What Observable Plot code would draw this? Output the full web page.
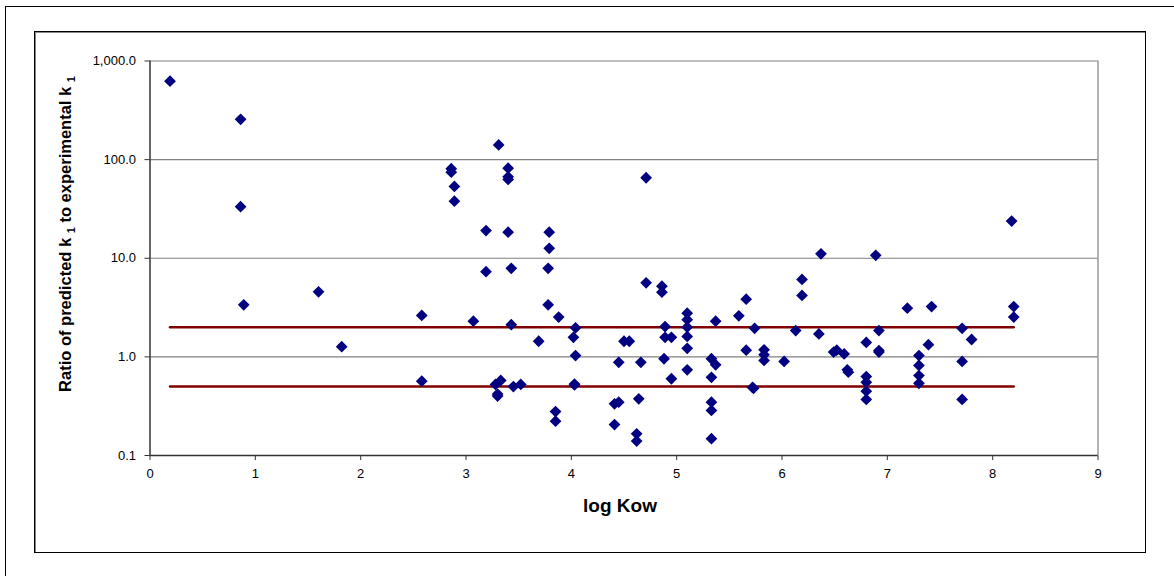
<!DOCTYPE html>
<html>
<head>
<meta charset="utf-8">
<script src="https://cdn.jsdelivr.net/npm/d3@7"></script>
<script src="https://cdn.jsdelivr.net/npm/@observablehq/plot@0.6"></script>
<style>
  html, body { margin: 0; padding: 0; background: #fff; }
  #wrap { position: relative; width: 1174px; height: 576px; overflow: hidden; font-family: "Liberation Sans", Arial, sans-serif; }
  #chart { position: absolute; left: 0; top: 0; }
  .outer { position: absolute; left: 5px; top: 6px; width: 1300px; height: 700px; border-left: 1.5px solid #000; border-top: 1.5px solid #000; pointer-events: none; }
  .inner { position: absolute; left: 34px; top: 31px; width: 1110px; height: 520px; border: 1px solid #000; box-shadow: inset 1px 1px 0 #888; pointer-events: none; }
</style>
</head>
<body>
<div id="wrap">
  <div id="chart"></div>
  <div class="outer"></div>
  <div class="inner"></div>
</div>
<script>
// log Kow values (x)
const logKow = [
  0.19, 0.86, 0.86, 0.89, 1.60, 1.82, 2.58, 2.58, 2.86, 2.86, 2.89, 2.89, 3.07,
  3.31, 3.40, 3.40, 3.40, 3.19, 3.40, 3.79, 3.79, 3.78, 3.19, 3.43, 3.78, 3.88,
  3.43, 3.69, 4.04, 4.02, 4.04, 4.03, 4.03, 3.33, 3.28, 3.30, 3.30, 3.45, 3.52,
  3.85, 3.85, 4.41, 4.41, 4.45, 4.45, 4.50, 4.55, 4.66, 4.64, 4.62, 4.62, 4.71,
  4.71, 4.86, 4.86, 4.89, 4.89, 4.95, 4.88, 4.95, 5.10, 5.10, 5.10, 5.10, 5.10,
  5.10, 5.33, 5.37, 5.33, 5.33, 5.33, 5.33, 5.37, 5.59, 5.66, 5.74, 5.66, 5.72,
  5.73, 5.83, 5.83, 5.83, 6.02, 6.13, 6.19, 6.19, 6.37, 6.35, 6.49, 6.52, 6.59,
  6.62, 6.63, 6.80, 6.80, 6.80, 6.80, 6.80, 6.89, 6.92, 6.92, 6.92, 7.19, 7.30,
  7.30, 7.30, 7.30, 7.39, 7.42, 7.71, 7.80, 7.71, 7.71, 8.18, 8.20, 8.20
];
// Ratio of predicted k1 to experimental k1 (y)
const ratio = [
  625, 256, 33.3, 3.37, 4.57, 1.27, 2.63, 0.567, 81, 74.6, 53.5, 37.9, 2.30,
  141, 82, 67, 63, 19.1, 18.4, 18.4, 12.6, 7.9, 7.3, 7.9, 3.37, 2.53,
  2.12, 1.44, 1.97, 1.58, 1.03, 0.53, 0.52, 0.577, 0.525, 0.42, 0.40, 0.50, 0.525,
  0.279, 0.223, 0.206, 0.334, 0.347, 0.88, 1.44, 1.44, 0.88, 0.376, 0.166, 0.14, 65.5,
  5.64, 5.21, 4.53, 2.03, 1.58, 1.58, 0.957, 0.60, 2.77, 2.38, 2.0, 1.61, 1.22,
  0.74, 0.957, 0.83, 0.62, 0.347, 0.286, 0.148, 2.30, 2.61, 3.85, 1.95, 1.17, 0.49,
  0.48, 1.18, 1.05, 0.92, 0.90, 1.85, 6.1, 4.2, 11.1, 1.71, 1.12, 1.17, 1.07,
  0.74, 0.70, 1.40, 0.632, 0.553, 0.449, 0.37, 10.7, 1.85, 1.16, 1.12, 3.12, 1.03,
  0.818, 0.647, 0.54, 1.33, 3.24, 1.95, 1.50, 0.90, 0.37, 23.8, 3.24, 2.53
];
// reference band lines (factor of 2)
const bandX = [0.19, 8.2];
const upperBand = [2, 2];
const lowerBand = [0.5, 0.5];
// tick values
const xTicks = [0, 1, 2, 3, 4, 5, 6, 7, 8, 9];
const yTicks = [0.1, 1, 10, 100, 1000];
const gridY = [1, 10, 100, 1000];

const points = logKow.map((x, i) => ({x, y: ratio[i]}));
const upper = bandX.map((x, i) => ({x, y: upperBand[i]}));
const lower = bandX.map((x, i) => ({x, y: lowerBand[i]}));

const chart = Plot.plot({
  width: 1174,
  height: 576,
  marginLeft: 149.5,
  marginRight: 76.5,
  marginTop: 60.5,
  marginBottom: 121,
  style: {fontFamily: "'Liberation Sans', Arial, sans-serif", fontSize: "13px", color: "#000", background: "transparent"},
  x: {domain: [0, 9], ticks: xTicks, tickSize: 5, tickPadding: 8, label: null, tickFormat: d3.format("d")},
  y: {type: "log", domain: [0.1, 1000], ticks: yTicks, tickSize: 5, tickPadding: 9, label: null, tickFormat: d3.format(",.1f")},
  marks: [
    Plot.ruleY(gridY, {stroke: "#808080", strokeWidth: 1.2}),
    Plot.ruleX([9], {stroke: "#808080", strokeWidth: 1.2}),
    Plot.ruleX([0], {stroke: "#333", strokeWidth: 1.5}),
    Plot.ruleY([0.1], {stroke: "#333", strokeWidth: 1.5}),
    Plot.line(upper, {x: "x", y: "y", stroke: "#800000", strokeWidth: 2.5}),
    Plot.line(lower, {x: "x", y: "y", stroke: "#800000", strokeWidth: 2.5}),
    Plot.dot(points, {x: "x", y: "y", symbol: "diamond2", r: 5.3, fill: "#000080", stroke: "none"}),
    Plot.axisX({ticks: xTicks, tickSize: 5, tickPadding: 8, tickFormat: d3.format("d"), label: null, stroke: "#333", fontSize: 13}),
    Plot.axisY({ticks: yTicks, tickSize: 5, tickPadding: 9, tickFormat: d3.format(",.1f"), label: null, stroke: "#333", fontSize: 13})
  ]
});

const svg = d3.select(chart);
// x-axis title
svg.append("text")
  .attr("x", 620).attr("y", 512)
  .attr("text-anchor", "middle")
  .attr("font-family", "'Liberation Sans', Arial, sans-serif")
  .attr("font-weight", "bold").attr("font-size", 19)
  .attr("fill", "#000")
  .text("log Kow");
// y-axis title with subscripts
const yt = svg.append("text")
  .attr("transform", "translate(71,234) rotate(-90)")
  .attr("text-anchor", "middle")
  .attr("font-family", "'Liberation Sans', Arial, sans-serif")
  .attr("font-weight", "bold").attr("font-size", 16.5)
  .attr("fill", "#000");
yt.append("tspan").text("Ratio of predicted k ");
yt.append("tspan").attr("dy", 4).attr("font-size", 11).text("1");
yt.append("tspan").attr("dy", -4).text(" to experimental k ");
yt.append("tspan").attr("dy", 4).attr("font-size", 11).text("1");

document.getElementById("chart").appendChild(chart);
</script>
</body>
</html>
